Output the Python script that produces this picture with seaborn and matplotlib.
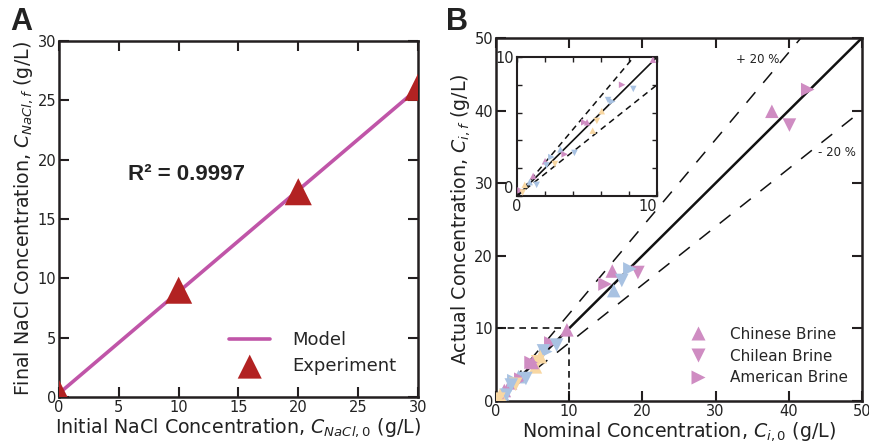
import numpy as np
import pandas as pd
import matplotlib
matplotlib.use("Agg")
import matplotlib.pyplot as plt
import seaborn as sns
from matplotlib.lines import Line2D

sns.set_style("ticks")
plt.rcParams['font.family'] = ['DejaVu Sans']
plt.rcParams['mathtext.fontset'] = 'dejavusans'

# ---------------- Panel A data ----------------
nacl_initial = [0, 10, 20, 30]
nacl_final = [0.3, 9.0, 17.3, 26.1]
model_x = [0, 30]
model_y = [0.3, 26.0]
r2_text = "R\u00b2 = 0.9997"

# ---------------- Panel B data ----------------
nominal = [37.7, 40.1, 42.6, 15.9, 19.4, 14.9, 16.1, 17.2, 18.3, 9.7,
           7.5, 8.3, 6.5, 6.8, 6.05, 5.7, 5.4, 4.8, 5.0,
           3.1, 3.4, 4.1, 2.0, 2.45, 2.7, 2.1,
           1.15, 0.9, 1.4, 0.55, 0.25, 0.4]
actual = [39.9, 38.0, 42.9, 17.9, 17.7, 16.1, 15.2, 16.6, 18.2, 9.8,
          8.0, 7.7, 6.9, 6.8, 6.1, 5.4, 4.7, 5.3, 5.3,
          3.35, 3.0, 3.1, 2.5, 2.8, 2.3, 2.2,
          1.44, 1.0, 0.8, 0.8, 0.4, 0.25]
group = ["pink", "pink", "pink", "pink", "pink", "pink", "blue", "blue", "blue", "pink",
         "pink", "blue", "blue", "blue", "orange", "orange", "orange", "pink", "pink",
         "blue", "pink", "blue", "pink", "blue", "orange", "blue",
         "pink", "blue", "blue", "orange", "pink", "orange"]
brine = ["Chinese Brine", "Chilean Brine", "American Brine", "Chinese Brine", "Chilean Brine",
         "American Brine", "Chinese Brine", "Chilean Brine", "American Brine", "Chinese Brine",
         "American Brine", "Chilean Brine", "Chilean Brine", "American Brine", "Chinese Brine",
         "Chilean Brine", "Chinese Brine", "American Brine", "Chinese Brine",
         "Chinese Brine", "American Brine", "Chilean Brine", "Chinese Brine", "American Brine",
         "Chilean Brine", "Chilean Brine",
         "Chinese Brine", "Chinese Brine", "Chilean Brine", "Chinese Brine", "American Brine",
         "Chilean Brine"]
brine_names = ["Chinese Brine", "Chilean Brine", "American Brine"]

palette = {"pink": "#CF8CC2", "blue": "#A8C2E2", "orange": "#F8D7A2"}
markers = {"Chinese Brine": "^", "Chilean Brine": "v", "American Brine": ">"}

dfA = pd.DataFrame({"x": nacl_initial, "y": nacl_final})
dfM = pd.DataFrame({"x": model_x, "y": model_y})
dfB = pd.DataFrame({"x": nominal, "y": actual, "group": group, "brine": brine})

fig = plt.figure(figsize=(8.7, 4.42), dpi=100)

spine_col = "#231f20"

def style_axes(ax, lw=1.8, tlen=7, tw=1.5, size=10.5):
    for s in ax.spines.values():
        s.set_linewidth(lw)
        s.set_color(spine_col)
        s.set_visible(True)
    ax.tick_params(direction="in", top=True, right=True, length=tlen, width=tw,
                   labelsize=size, colors=spine_col, labelcolor="#222222", pad=2)

# ---------------- Panel A ----------------
axA = fig.add_axes([0.0678, 0.1018, 0.4126, 0.8054])
sns.lineplot(data=dfM, x="x", y="y", ax=axA, color="#C055A8", lw=2.6, label="Model")
sns.scatterplot(data=dfA, x="x", y="y", ax=axA, marker="^", s=380, color="#B22222",
                edgecolor="none", label="Experiment", zorder=3)
axA.set_xlim(0, 30)
axA.set_ylim(0, 30)
axA.set_xticks([0, 5, 10, 15, 20, 25, 30])
axA.set_yticks([0, 5, 10, 15, 20, 25, 30])
style_axes(axA)
axA.set_xlabel("Initial NaCl Concentration, $C_{NaCl,0}$ (g/L)", fontsize=13.7, labelpad=1, color="#222222")
axA.set_ylabel("Final NaCl Concentration, $C_{NaCl,f}$ (g/L)", fontsize=13.7, labelpad=2, color="#222222")
axA.text(0.355, 0.625, r2_text, transform=axA.transAxes, ha="center", va="center",
         fontsize=16, fontweight="bold", family="Liberation Sans", color="#222222")
legA = axA.legend(loc="lower right", frameon=False, fontsize=13, handlelength=2.3,
                  handletextpad=1.2, labelspacing=0.45, borderaxespad=0.8,
                  bbox_to_anchor=(1.0, 0.0))
for h in legA.legend_handles:
    if hasattr(h, "set_sizes"):
        h.set_sizes([300])
fig.text(0.012, 0.985, "A", ha="left", va="top", fontsize=22, fontweight="bold",
         family="Liberation Sans", color="#222222")

# ---------------- Panel B ----------------
axB = fig.add_axes([0.570, 0.0928, 0.4207, 0.8213])
xx = np.array([0, 50])
axB.plot(xx, xx, color="#111111", lw=1.8, zorder=2)
axB.plot(xx, 1.2 * xx, color="#111111", lw=1.1, dashes=(9, 8), zorder=2)
axB.plot(xx, 0.8 * xx, color="#111111", lw=1.1, dashes=(9, 8), zorder=2)
axB.plot([0, 10], [10, 10], color="#111111", lw=1.2, dashes=(4, 3), zorder=2)
axB.plot([10, 10], [0, 10], color="#111111", lw=1.2, dashes=(4, 3), zorder=2)
sns.scatterplot(data=dfB, x="x", y="y", hue="group", style="brine", palette=palette,
                markers=markers, s=95, edgecolor="none", ax=axB, legend=False, zorder=3)
axB.set_xlim(0, 50)
axB.set_ylim(0, 50)
axB.set_xticks([0, 10, 20, 30, 40, 50])
axB.set_yticks([0, 10, 20, 30, 40, 50])
style_axes(axB)
axB.set_xlabel("Nominal Concentration, $C_{i,0}$ (g/L)", fontsize=13.7, labelpad=1, color="#222222")
axB.set_ylabel("Actual Concentration, $C_{i,f}$ (g/L)", fontsize=13.7, labelpad=2, color="#222222")
axB.text(35.7, 47.0, "+ 20 %", ha="center", va="center", fontsize=8.5, color="#222222")
axB.text(46.6, 34.2, "- 20 %", ha="center", va="center", fontsize=8.5, color="#222222")
handles = [Line2D([], [], ls="none", marker=markers[b], markersize=10, color=palette["pink"],
                  markeredgecolor="none") for b in brine_names]
axB.legend(handles, brine_names, loc="lower right", frameon=False, fontsize=11,
           handletextpad=1.1, labelspacing=0.45, borderaxespad=0.5,
           bbox_to_anchor=(1.0, 0.005))
fig.text(0.513, 0.985, "B", ha="left", va="top", fontsize=22, fontweight="bold",
         family="Liberation Sans", color="#222222")

# ---------------- Inset ----------------
axI = fig.add_axes([0.5943, 0.5566, 0.161, 0.3145])
xi = np.array([0, 10])
axI.plot(xi, xi, color="#111111", lw=1.2, zorder=2)
axI.plot(xi, 1.2 * xi, color="#111111", lw=1.1, dashes=(4, 3), zorder=2)
axI.plot(xi, 0.8 * xi, color="#111111", lw=1.1, dashes=(4, 3), zorder=2)
sns.scatterplot(data=dfB, x="x", y="y", hue="group", style="brine", palette=palette,
                markers=markers, s=22, edgecolor="none", ax=axI, legend=False, zorder=3)
axI.set_xlim(0, 10)
axI.set_ylim(0, 10)
axI.set_xticks([0, 2, 4, 6, 8, 10])
axI.set_yticks([0, 2, 4, 6, 8, 10])
axI.set_xticklabels(["0", "", "", "", "", "10"])
axI.set_yticklabels(["0", "", "", "", "", "10"])
style_axes(axI, lw=1.5, tlen=3.5, tw=1.0, size=10.5)
axI.tick_params(axis="x", pad=2)
axI.tick_params(axis="y", pad=2.5)
axI.get_xticklabels()[-1].set_horizontalalignment("right")
axI.get_yticklabels()[0].set_verticalalignment("bottom")
axI.set_xlabel("")
axI.set_ylabel("")
axI.set_facecolor("white")

fig.savefig("out.png", dpi=100)
